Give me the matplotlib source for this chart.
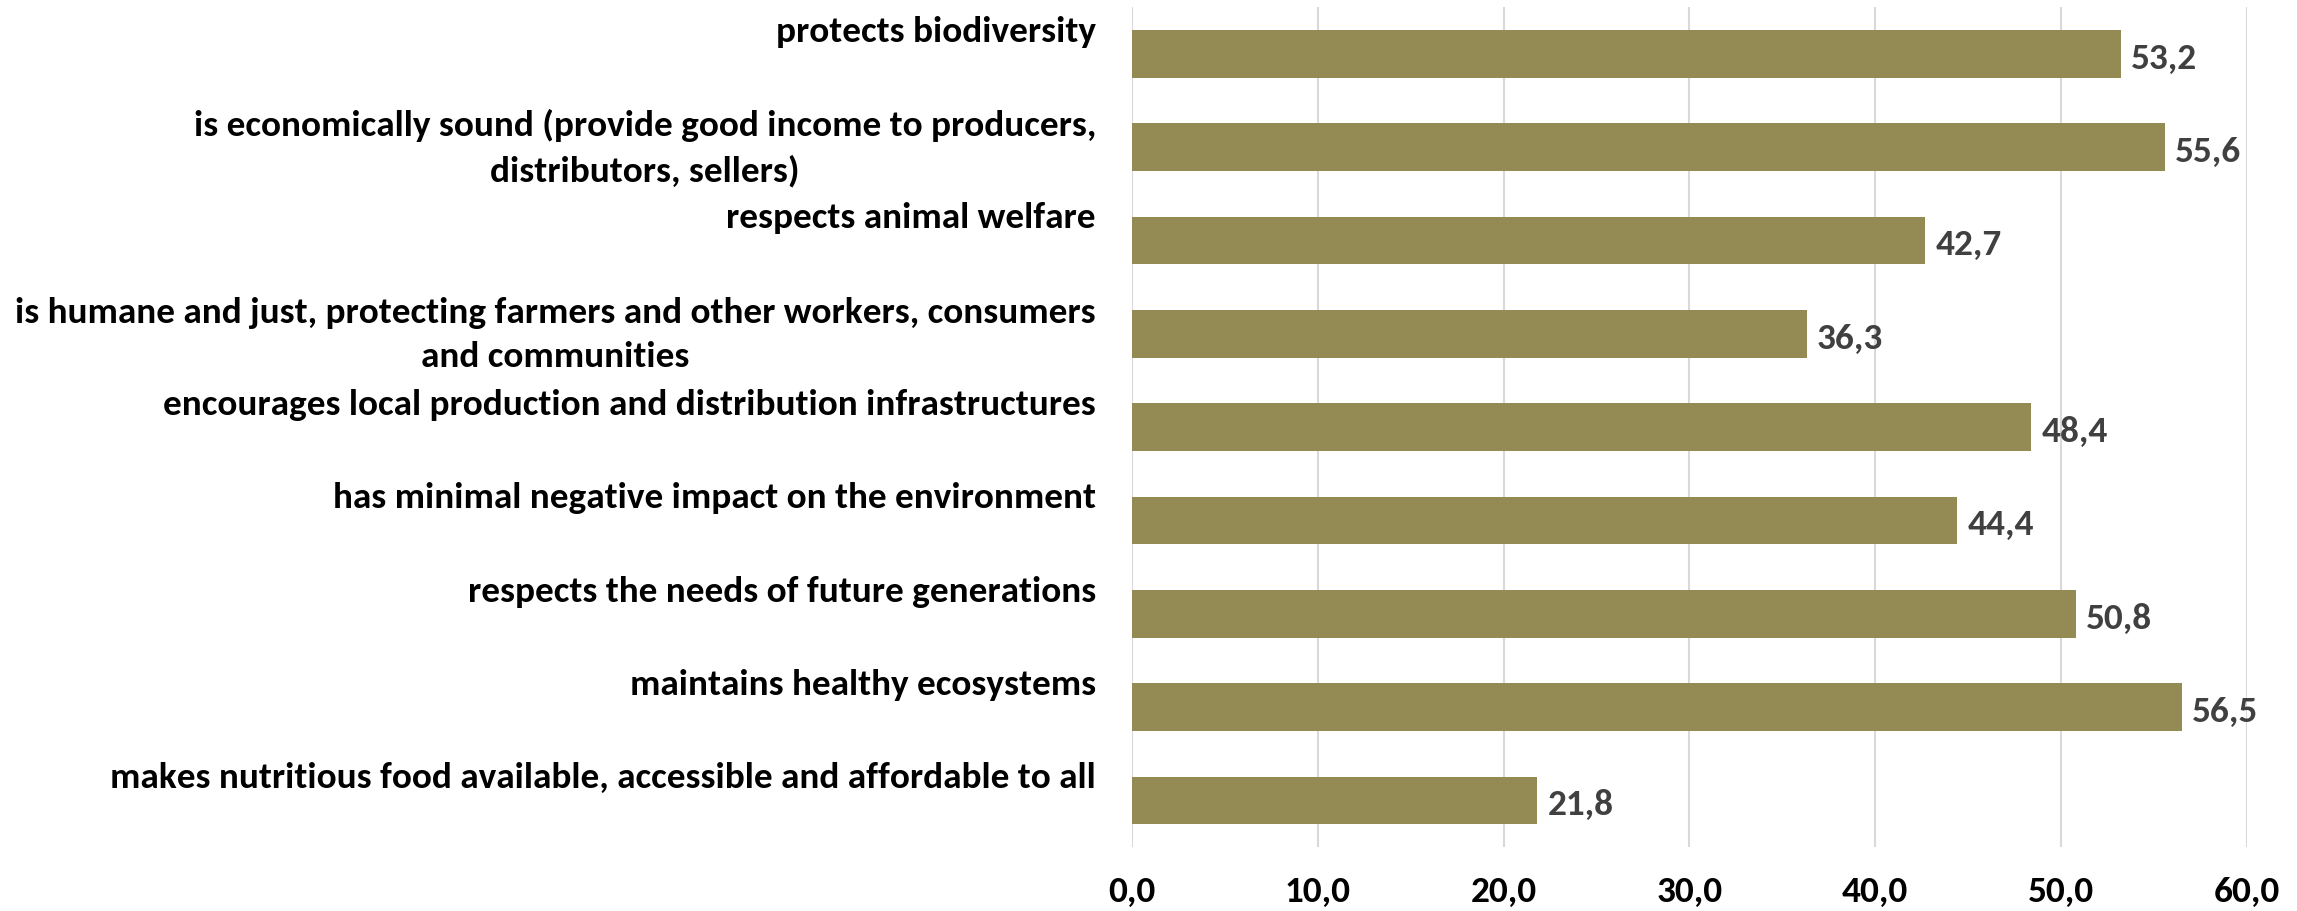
import matplotlib
matplotlib.use('Agg')
import matplotlib.pyplot as plt
import matplotlib.transforms as mtransforms

# Data, top to bottom as in the chart
categories = [
    "protects biodiversity",
    "is economically sound (provide good income to producers,\ndistributors, sellers)",
    "respects animal welfare",
    "is humane and just, protecting farmers and other workers, consumers\nand communities",
    "encourages local production and distribution infrastructures",
    "has minimal negative impact on the environment",
    "respects the needs of future generations",
    "maintains healthy ecosystems",
    "makes nutritious food available, accessible and affordable to all",
]
values = [53.2, 55.6, 42.7, 36.3, 48.4, 44.4, 50.8, 56.5, 21.8]
xticks = [0, 10, 20, 30, 40, 50, 60]

plt.rcParams['font.family'] = ['Carlito', 'Open Sans Condensed', 'DejaVu Sans']
plt.rcParams['font.weight'] = 'bold'

FS = 26.8

fig = plt.figure(figsize=(22.97, 9.12), dpi=100)
ax = fig.add_axes([0.4928, 0.070, 0.9782 - 0.4928, 0.921])

ypos = list(range(len(categories)))
ax.barh(ypos, values, height=0.51, color='#948A54', zorder=2)

ax.set_xlim(0, 60)
ax.set_ylim(len(categories) - 0.5, -0.5)
ax.set_xticks(xticks)
ax.set_xticklabels([f"{t:.1f}".replace('.', ',') for t in xticks], fontsize=FS, fontweight='bold')
ax.tick_params(axis='x', length=0, pad=20)
ax.set_yticks([])
ax.grid(axis='x', color='#D9D9D9', linewidth=1.5, zorder=0)
for s in ax.spines.values():
    s.set_visible(False)

# category labels (two-line slot, single lines sit at the top)
trans = mtransforms.offset_copy(
    mtransforms.blended_transform_factory(ax.transAxes, ax.transData),
    fig=fig, x=-36, y=0, units='dots')
for y, lab in zip(ypos, categories):
    yy = y if '\n' in lab else y - 0.25
    ax.text(0, yy, lab, transform=trans, ha='right', va='center',
            multialignment='center', fontsize=FS, fontweight='bold',
            color='black', linespacing=1.45)

# value labels
for y, v in zip(ypos, values):
    ax.text(v + 0.55, y + 0.04, f"{v:.1f}".replace('.', ','), ha='left', va='center',
            fontsize=FS, fontweight='bold', color='#404040')

fig.savefig('out.png', dpi=100)
